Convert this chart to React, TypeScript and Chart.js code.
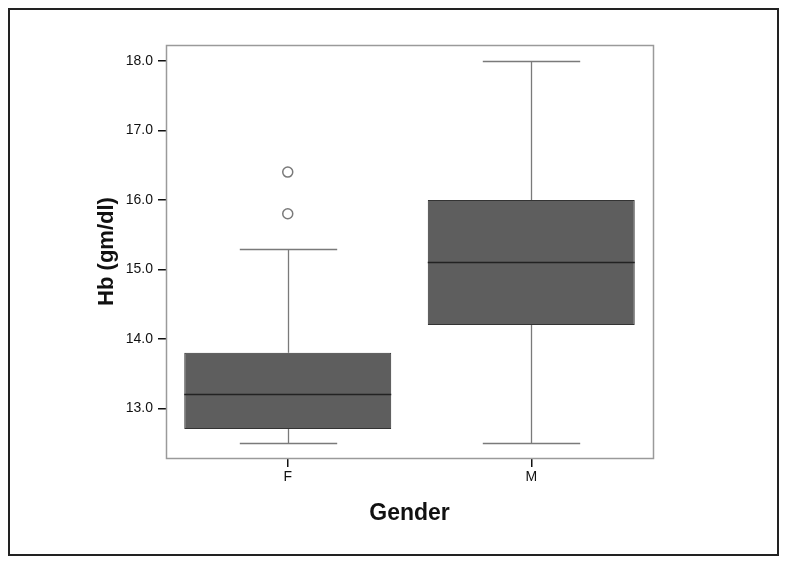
import React, { useEffect, useRef } from 'react';
import { Chart, registerables } from 'chart.js';
Chart.register(...registerables);

const categories = ['F', 'M'];
const whiskerLow = [12.5, 12.5];
const q1 = [12.7, 14.2];
const median = [13.2, 15.1];
const q3 = [13.8, 16.0];
const whiskerHigh = [15.3, 18.0];
const outlierCategory = ['F', 'F'];
const outlierValues = [15.8, 16.4];
const yTicks = [13, 14, 15, 16, 17, 18];
const yMin = 12.284;
const yMax = 18.23;

const FONT = '"Liberation Sans", Arial, sans-serif';

const boxPlugin = {
  id: 'boxExtras',
  beforeDatasetsDraw(chart: any) {
    const { ctx, scales } = chart;
    const x = scales.x;
    const y = scales.y;
    const band = x.getPixelForValue(1) - x.getPixelForValue(0);
    const capHalf = band * 0.2;
    ctx.save();
    ctx.strokeStyle = '#7a7a7a';
    ctx.lineWidth = 1.3;
    categories.forEach((_, i) => {
      const cx = Math.round(x.getPixelForValue(i)) + 0.5;
      const yl = Math.round(y.getPixelForValue(whiskerLow[i])) + 0.5;
      const yh = Math.round(y.getPixelForValue(whiskerHigh[i])) + 0.5;
      const y1 = y.getPixelForValue(q1[i]);
      const y3 = y.getPixelForValue(q3[i]);
      ctx.beginPath();
      ctx.moveTo(cx, yl); ctx.lineTo(cx, y1);
      ctx.moveTo(cx, y3); ctx.lineTo(cx, yh);
      ctx.moveTo(cx - capHalf, yl); ctx.lineTo(cx + capHalf, yl);
      ctx.moveTo(cx - capHalf, yh); ctx.lineTo(cx + capHalf, yh);
      ctx.stroke();
    });
    ctx.restore();
  },
  afterDatasetsDraw(chart: any) {
    const { ctx, scales } = chart;
    const x = scales.x;
    const y = scales.y;
    const band = x.getPixelForValue(1) - x.getPixelForValue(0);
    const half = band * 0.85 / 2;
    ctx.save();
    ctx.strokeStyle = '#222';
    ctx.lineWidth = 1.5;
    categories.forEach((_, i) => {
      const cx = x.getPixelForValue(i);
      const ym = Math.round(y.getPixelForValue(median[i])) + 0.5;
      ctx.beginPath();
      ctx.moveTo(cx - half, ym); ctx.lineTo(cx + half, ym);
      ctx.stroke();
    });
    const a = chart.chartArea;
    ctx.strokeStyle = '#9a9a9a';
    ctx.lineWidth = 1.5;
    ctx.strokeRect(Math.round(a.left) + 0.5, Math.round(a.top) + 0.5, Math.round(a.right - a.left), Math.round(a.bottom - a.top));
    ctx.restore();
  },
};

export default function App() {
  const ref = useRef<HTMLCanvasElement>(null);
  useEffect(() => {
    document.body.style.overflow = 'hidden';
    if (!ref.current) return;
    Chart.defaults.font.family = FONT;
    const chart = new Chart(ref.current, {
      type: 'bar',
      data: {
        labels: categories,
        datasets: [
          {
            type: 'bar',
            label: 'Box',
            data: categories.map((_, i) => [q1[i], q3[i]]) as any,
            backgroundColor: '#5e5e5e',
            borderColor: '#333333',
            borderWidth: 1,
            borderSkipped: false,
            barPercentage: 0.85,
            categoryPercentage: 1,
          } as any,
          {
            type: 'line',
            label: 'Outliers',
            data: outlierValues.map((v, i) => ({ x: outlierCategory[i], y: v })) as any,
            showLine: false,
            pointStyle: 'circle',
            pointRadius: 5,
            pointBorderWidth: 1.5,
            pointBorderColor: '#7a7a7a',
            pointBackgroundColor: '#ffffff',
          } as any,
        ],
      },
      options: {
        animation: false,
        responsive: false,
        layout: { padding: { top: 35, right: 124, left: 0, bottom: 0 } },
        plugins: { legend: { display: false }, tooltip: { enabled: false } },
        scales: {
          x: {
            type: 'category',
            offset: true,
            grid: { drawOnChartArea: false, drawTicks: true, tickLength: 9, color: '#111', offset: false, lineWidth: 1.5 },
            border: { display: false },
            ticks: { color: '#111', font: { size: 14, family: FONT }, padding: 2 },
            title: { display: true, text: 'Gender', color: '#111', font: { size: 23, weight: 'bold', family: FONT }, padding: { top: 0, bottom: 27 } },
            afterFit: (s: any) => { s.height = 96; },
          },
          y: {
            type: 'linear',
            min: yMin,
            max: yMax,
            grid: { drawOnChartArea: false, drawTicks: true, tickLength: 8, color: '#111', lineWidth: 1.5 },
            border: { display: false },
            ticks: {
              color: '#111',
              font: { size: 14, family: FONT },
              padding: 5,
              includeBounds: false,
              callback: (v: any) => Number(v).toFixed(1),
            },
            afterBuildTicks: (s: any) => { s.ticks = yTicks.map((v) => ({ value: v })); },
            title: { display: true, text: 'Hb (gm/dl)', color: '#111', font: { size: 22, weight: 'bold', family: FONT }, padding: { top: 84, bottom: 0 } },
            afterFit: (s: any) => { s.width = 156; },
          },
        },
      },
      plugins: [boxPlugin],
    });
    return () => chart.destroy();
  }, []);
  return (
    <div style={{ width: 767, height: 544, border: '2px solid #222', background: '#fff' }}>
      <canvas ref={ref} width={767} height={544} style={{ display: 'block' }} />
    </div>
  );
}
